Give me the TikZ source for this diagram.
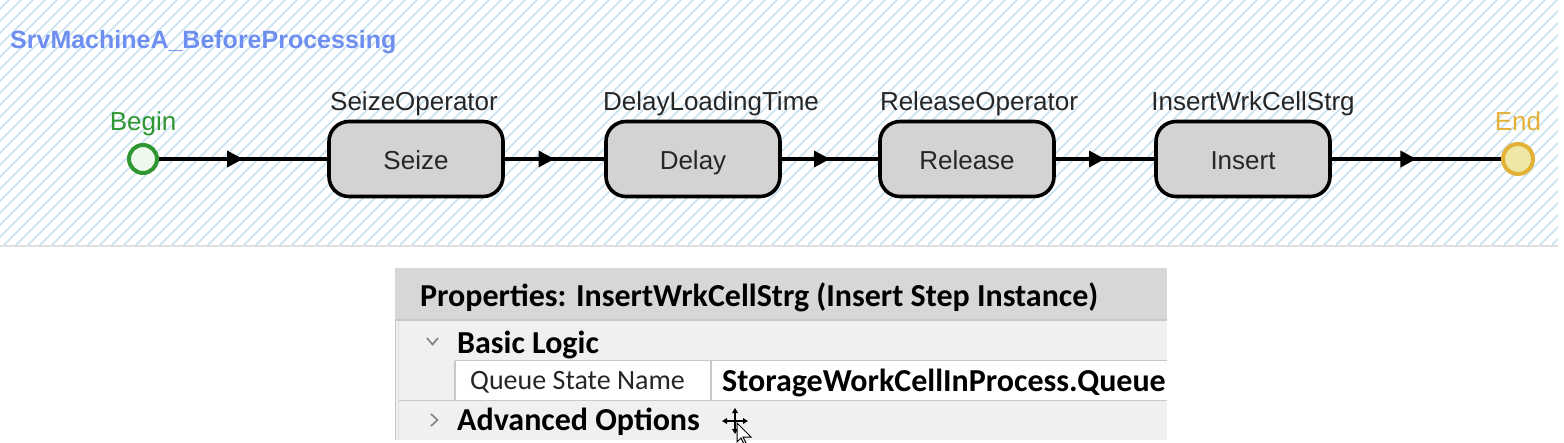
\documentclass[tikz,border=0pt]{standalone}
\usepackage{fontspec}
\setmainfont{Liberation Sans}
\newfontfamily\propfont{Carlito}
\usetikzlibrary{arrows.meta,decorations.markings}
\definecolor{hatchc}{HTML}{C9E0F1}
\definecolor{titlec}{HTML}{6E8FF0}
\definecolor{beginc}{HTML}{2E9632}
\definecolor{beginf}{HTML}{EEF8EC}
\definecolor{endc}{HTML}{E2B136}
\definecolor{endf}{HTML}{EFE7A6}
\definecolor{boxf}{HTML}{D3D3D3}
\definecolor{hdrf}{HTML}{D7D7D7}
\definecolor{rowf}{HTML}{F0F0F0}
\definecolor{gridc}{HTML}{C8C8C8}
\definecolor{txt}{HTML}{262626}
\tikzset{
  stepbox/.style={draw=black, line width=3.6pt, fill=boxf, rounded corners=20pt,
    minimum width=174pt, minimum height=75pt, inner sep=0pt,
    text height=20pt, text depth=0pt,
    font=\fontsize{26}{30}\selectfont, text=txt},
  lbl/.style={anchor=base, inner sep=0pt, font=\fontsize{26}{30}\selectfont, text=txt},
  conn/.style={line width=3.4pt, draw=black,
    decoration={markings, mark=at position 0.5 with {\arrow{Triangle[length=16pt,width=16pt]}}},
    postaction={decorate}},
  ptxt/.style={anchor=base west, inner sep=0pt, text=black},
  pbold/.style={ptxt, font=\propfont\bfseries\fontsize{32}{36}\selectfont},
  preg/.style={ptxt, font=\propfont\fontsize{28}{32}\selectfont, text=txt},
}
\begin{document}
\begin{tikzpicture}[x=1pt,y=-1pt]
\useasboundingbox (0,0) rectangle (1564,442);
% hatched top panel
\begin{scope}
\clip (0,0) rectangle (1558,245);
\foreach \i in {-260,-248,...,1570} \draw[hatchc, line width=1.7pt] (\i,245) -- (\i+245,0);
\end{scope}
\draw[gridc!60, line width=1.5pt] (0,246) -- (1558,246);
\node[anchor=base west, inner sep=0pt, text=titlec, font=\bfseries\fontsize{25}{30}\selectfont] (title) at (10,48) {SrvMachineA\_BeforeProcessing};
% begin / end
\node[circle, draw=beginc, fill=beginf, line width=4pt, minimum size=28pt, inner sep=0pt] (begin) at (143,159) {};
\node[lbl, text=beginc] (beginl) at (143,130) {Begin};
\node[circle, draw=endc, fill=endf, line width=4pt, minimum size=30pt, inner sep=0pt] (end) at (1518,159) {};
\node[lbl, text=endc] (endl) at (1518,130) {End};
% steps
\node[stepbox] (seize) at (416,159) {Seize};
\node[stepbox] (delay) at (693,159) {Delay};
\node[stepbox] (release) at (967,159) {Release};
\node[stepbox] (insert) at (1243,159) {Insert};
\node[lbl] (seizel) at (414,110) {SeizeOperator};
\node[lbl] (delayl) at (711,110) {DelayLoadingTime};
\node[lbl] (releasel) at (979,110) {ReleaseOperator};
\node[lbl] (insertl) at (1253,110) {InsertWrkCellStrg};
\draw[conn] (begin) -- (seize);
\draw[conn] (seize) -- (delay);
\draw[conn] (delay) -- (release);
\draw[conn] (release) -- (insert);
\draw[conn] (insert) -- (end);
% properties panel
\fill[hdrf] (395,268) rectangle (1167,319);
\fill[rowf] (395,320) rectangle (1167,440);
\fill[white] (455,361) rectangle (1167,400);
\draw[gridc, line width=1.2pt] (395,320) -- (1167,320);
\draw[gridc, line width=1.2pt] (455,360.5) -- (1167,360.5);
\draw[gridc, line width=1.2pt] (398,400.5) -- (1167,400.5);
\draw[gridc, line width=1.2pt] (455,360.5) -- (455,400.5);
\draw[gridc, line width=1.2pt] (711,360.5) -- (711,400.5);
\draw[gridc, line width=1.2pt] (395.6,320) -- (395.6,440);
\draw[gridc!60, line width=1pt] (398.5,322) -- (398.5,440);
\node[pbold] (hdr) at (420,306) {Properties: InsertWrkCellStrg (Insert Step Instance)};
\node[pbold] (basic) at (457,353) {Basic Logic};
\node[preg] (qsn) at (470,389) {Queue State Name};
\node[pbold] (qval) at (722,391) {StorageWorkCellInProcess.Queue};
\node[pbold] (adv) at (457,430) {Advanced Options};
% chevrons
\draw[gray, line width=1.6pt] (427,338) -- (432.5,344.5) -- (438,338);
\draw[gray, line width=1.6pt] (431,414) -- (437.5,420) -- (431,426);
% cursor
\begin{scope}[line width=1.3pt]
\draw (735,411) -- (735,431);
\draw (725,421) -- (745,421);
\fill (735,408) -- (732,413) -- (738,413) -- cycle;
\fill (735,434) -- (732,429) -- (738,429) -- cycle;
\fill (722,421) -- (727,418) -- (727,424) -- cycle;
\fill (748,421) -- (743,418) -- (743,424) -- cycle;
\draw[fill=white, line width=1pt] (737,423) -- (737,442) -- (741,438) -- (744,444) -- (746,443) -- (743,437) -- (751,437) -- cycle;
\end{scope}
\end{tikzpicture}
\end{document}
